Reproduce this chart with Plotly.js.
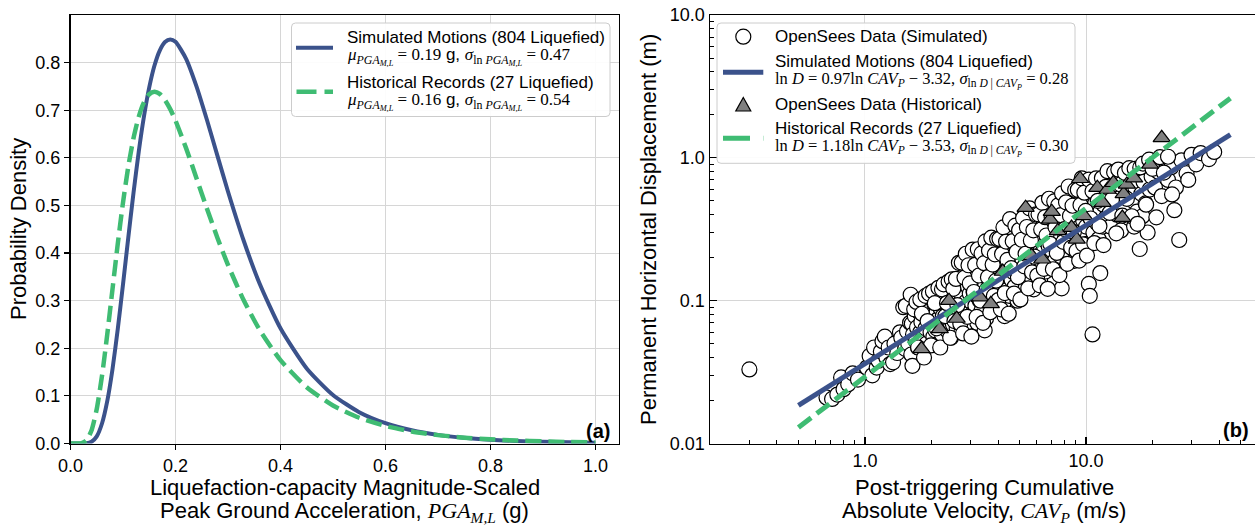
<!DOCTYPE html>
<html>
<head>
<meta charset="utf-8">
<script src="https://cdn.plot.ly/plotly-3.0.1.min.js"></script>
<style>
  html, body { margin: 0; padding: 0; overflow: hidden; background: #fff; }
  #fig { width: 1262px; height: 526px; }
</style>
</head>
<body>
<div id="fig"></div>
<script>
// ---------- (a) probability density of PGA_M,L ----------
const pgaGrid = [0, 0.01, 0.02, 0.03, 0.04, 0.05, 0.06, 0.07, 0.08, 0.09,
  0.10, 0.11, 0.12, 0.13, 0.14, 0.15, 0.16, 0.17, 0.18, 0.19,
  0.20, 0.22, 0.24, 0.26, 0.28, 0.30, 0.33, 0.36, 0.40, 0.45,
  0.50, 0.55, 0.60, 0.65, 0.70, 0.75, 0.80, 0.85, 0.90, 0.95, 1.00];

const pdfSimulated = [0, 0, 0.0000, 0.0004, 0.0035, 0.0150, 0.0420, 0.0889, 0.1561, 0.2399,
  0.3340, 0.4316, 0.5263, 0.6127, 0.6873, 0.7480, 0.7939, 0.8254, 0.8432, 0.8488,
  0.8438, 0.8085, 0.7502, 0.6794, 0.6041, 0.5294, 0.4258, 0.3368, 0.2421, 0.1577,
  0.1020, 0.0658, 0.0426, 0.0277, 0.0181, 0.0119, 0.0079, 0.0053, 0.0036, 0.0024, 0.0017];

const pdfHistorical = [0, 0.0000, 0.0004, 0.0061, 0.0274, 0.0726, 0.1419, 0.2289, 0.3242, 0.4188,
  0.5058, 0.5808, 0.6411, 0.6862, 0.7166, 0.7335, 0.7388, 0.7342, 0.7214, 0.7023,
  0.6783, 0.6209, 0.5573, 0.4932, 0.4318, 0.3752, 0.3008, 0.2393, 0.1751, 0.1181,
  0.0797, 0.0541, 0.0369, 0.0254, 0.0176, 0.0123, 0.0087, 0.0062, 0.0044, 0.0032, 0.0023];

// ---------- (b) displacement vs CAV_P ----------
const simCAV = [
  0.30, 0.67, 0.71, 0.75, 0.78, 0.80, 0.84, 0.88, 0.93, 1.02,
  1.05, 1.08, 1.10, 1.13, 1.15, 1.18, 1.20, 1.23, 1.25, 1.28,
  1.30, 1.34, 1.36, 1.40, 1.44, 1.46, 1.49, 1.52, 1.53, 1.55,
  1.57, 1.60, 1.62, 1.63, 1.65, 1.68, 1.70, 1.72, 1.74, 1.76,
  1.78, 1.80, 1.83, 1.85, 1.88, 1.90, 1.93, 1.96, 1.98, 2.02,
  2.04, 2.06, 2.08, 2.10, 2.12, 2.14, 2.16, 2.18, 2.20, 2.23,
  2.25, 2.27, 2.30, 2.32, 2.35, 2.37, 2.40, 2.42, 2.45, 2.47,
  2.50, 2.52, 2.55, 2.57, 2.60, 2.62, 2.65, 2.68, 2.70, 2.73,
  2.75, 2.78, 2.80, 2.83, 2.86, 2.89, 2.92, 2.95, 2.98, 3.02,
  3.05, 3.08, 3.10, 3.13, 3.16, 3.19, 3.22, 3.25, 3.28, 3.31,
  3.34, 3.37, 3.40, 3.43, 3.46, 3.48, 3.50, 3.53, 3.56, 3.60,
  3.63, 3.67, 3.70, 3.74, 3.78, 3.82, 3.86, 3.88, 3.90, 3.94,
  3.98, 4.02, 4.06, 4.10, 4.14, 4.18, 4.22, 4.26, 4.28, 4.30,
  4.35, 4.40, 4.45, 4.50, 4.55, 4.60, 4.65, 4.70, 4.75, 4.80,
  4.85, 4.90, 4.95, 4.98, 5.02, 5.06, 5.10, 5.15, 5.20, 5.25,
  5.30, 5.35, 5.40, 5.45, 5.50, 5.55, 5.60, 5.65, 5.70, 5.75,
  5.80, 5.85, 5.90, 5.95, 6.00, 6.05, 6.10, 6.15, 6.20, 6.25,
  6.30, 6.36, 6.42, 6.48, 6.55, 6.60, 6.66, 6.72, 6.78, 6.85,
  6.92, 7.00, 7.08, 7.15, 7.22, 7.30, 7.38, 7.45, 7.52, 7.60,
  7.68, 7.76, 7.85, 7.92, 8.05, 8.15, 8.25, 8.35, 8.45, 8.55,
  8.65, 8.75, 8.85, 8.95, 9.05, 9.15, 9.25, 9.35, 9.50, 9.60,
  9.70, 9.80, 9.90, 10.0, 10.1, 10.2, 10.3, 10.4, 10.5, 10.7,
  10.8, 11.0, 11.2, 11.4, 11.6, 11.6, 11.8, 11.9, 12.0, 12.3,
  12.6, 12.9, 13.2, 13.5, 13.8, 14.1, 14.4, 14.7, 15.0, 15.3,
  15.6, 16.0, 16.3, 16.5, 16.7, 17.0, 17.4, 17.5, 17.8, 18.0,
  18.2, 18.6, 19.0, 19.0, 19.4, 19.8, 20.5, 21.2, 22.0, 22.8,
  23.5, 24.3, 25.1, 25.5, 26.4, 27.0, 28.5, 29.0, 30.0, 31.5,
  33.0, 36.0, 38.0,
  1.61, 1.64, 1.67, 1.71, 1.74, 1.78, 1.81, 1.85, 1.88, 1.92,
  1.95, 1.99, 2.03, 2.07, 2.11, 2.15, 2.19, 2.23, 2.27, 2.31,
  2.35, 2.39, 2.43, 2.47, 2.51,
  2.54, 2.58, 2.62, 2.66, 2.70,
  2.74, 2.78, 2.82, 2.86, 2.90, 2.94, 2.98, 3.03, 3.07, 3.11,
  3.15, 3.20, 3.24, 3.28, 3.33, 3.37, 3.42, 3.46, 3.51, 3.55,
  3.60, 3.64, 3.69, 3.73, 3.78, 3.83, 3.87, 3.92, 3.96, 4.01,
  4.06, 4.12, 4.17, 4.23, 4.29, 4.35, 4.41, 4.47, 4.53, 4.59,
  4.66, 4.72, 4.79, 4.85, 4.92, 4.98, 5.05, 5.12, 5.19, 5.26,
  5.33, 5.40, 5.48, 5.55, 5.63, 5.70, 5.78, 5.86, 5.94, 6.02,
  6.10, 6.18, 6.27, 6.35, 6.44, 6.53,
  6.62, 6.71, 6.80, 6.89,
  6.99, 7.08, 7.18, 7.28, 7.38, 7.48, 7.58, 7.69, 7.79, 7.90,
  8.01, 8.12, 8.23, 8.34, 8.46, 8.57, 8.69, 8.81, 8.93, 9.06,
  9.18, 9.31, 9.44, 9.57, 9.70, 9.83, 9.97,
  10.1, 10.3, 10.5,
  10.7, 10.9, 11.1, 11.3, 11.5, 11.8, 12.0, 12.3, 12.5, 12.8,
  13.1, 13.4, 13.7, 14.0, 14.3, 14.6, 15.0, 15.3, 15.7,
  16.1, 16.6, 17.1, 17.6, 18.1, 18.7, 19.3, 20.0, 20.8, 21.6, 22.5, 23.5, 24.5];

const simDisp = [
  0.033, 0.021, 0.0205, 0.022, 0.029, 0.024, 0.026, 0.031, 0.028, 0.034,
  0.041, 0.030, 0.047, 0.034, 0.038, 0.044, 0.052, 0.056, 0.040, 0.047,
  0.036, 0.037, 0.050, 0.043, 0.060, 0.055, 0.090, 0.046, 0.092, 0.061,
  0.050, 0.070, 0.042, 0.069, 0.058, 0.078, 0.052, 0.065, 0.047, 0.083,
  0.060, 0.071, 0.055, 0.098, 0.064, 0.050, 0.075, 0.085, 0.060, 0.070,
  0.056, 0.095, 0.062, 0.081, 0.049, 0.074, 0.110, 0.066, 0.088, 0.058,
  0.078, 0.128, 0.070, 0.094, 0.062, 0.084, 0.105, 0.075, 0.055, 0.092,
  0.068, 0.140, 0.082, 0.100, 0.064, 0.088, 0.118, 0.073, 0.096, 0.060,
  0.108, 0.085, 0.150, 0.078, 0.098, 0.070, 0.125, 0.090, 0.112, 0.098,
  0.130, 0.082, 0.115, 0.150, 0.092, 0.108, 0.070, 0.125, 0.170, 0.100,
  0.138, 0.085, 0.118, 0.160, 0.105, 0.062, 0.128, 0.075, 0.145, 0.112,
  0.195, 0.098, 0.135, 0.120, 0.160, 0.090, 0.142, 0.250, 0.115, 0.178,
  0.130, 0.102, 0.150, 0.125, 0.210, 0.140, 0.095, 0.165, 0.078, 0.132,
  0.118, 0.185, 0.150, 0.108, 0.170, 0.140, 0.230, 0.158, 0.125, 0.195,
  0.165, 0.100, 0.148, 0.182, 0.170, 0.220, 0.145, 0.195, 0.280, 0.160,
  0.205, 0.125, 0.240, 0.180, 0.310, 0.200, 0.150, 0.225, 0.185, 0.265,
  0.120, 0.210, 0.175, 0.340, 0.230, 0.160, 0.205, 0.250, 0.140, 0.290,
  0.215, 0.180, 0.370, 0.235, 0.160, 0.260, 0.200, 0.310, 0.240, 0.175,
  0.280, 0.225, 0.400, 0.255, 0.190, 0.300, 0.230, 0.160, 0.350, 0.270,
  0.205, 0.122, 0.320, 0.250, 0.280, 0.360, 0.215, 0.430, 0.300, 0.240,
  0.380, 0.320, 0.190, 0.470, 0.340, 0.260, 0.410, 0.300, 0.520, 0.225,
  0.365, 0.290, 0.450, 0.330, 0.250, 0.560, 0.131, 0.108, 0.380, 0.058,
  0.300, 0.480, 0.350, 0.270, 0.156, 0.420, 0.600, 0.330, 0.470, 0.380,
  0.520, 0.330, 0.450, 0.640, 0.400, 0.520, 0.310, 0.700, 0.460, 0.580,
  0.380, 0.760, 0.500, 0.330, 0.620, 0.420, 0.820, 0.230, 0.560, 0.390,
  0.680, 0.480, 0.880, 0.300, 0.600, 0.740, 0.620, 0.800, 0.540, 0.940,
  0.700, 0.860, 0.430, 0.620, 0.266, 0.960, 0.780, 0.700, 1.050, 0.900,
  1.080, 0.980, 1.100,
  0.110, 0.035, 0.087, 0.098, 0.047, 0.102, 0.081, 0.040, 0.108, 0.072,
  0.112, 0.0486, 0.116, 0.096, 0.064, 0.123, 0.047, 0.120, 0.130, 0.078,
  0.096, 0.136, 0.055, 0.141, 0.121,
  0.072, 0.142, 0.093, 0.184, 0.069,
  0.185, 0.059, 0.145, 0.213, 0.077, 0.177, 0.132, 0.056, 0.228, 0.115,
  0.178, 0.077, 0.229, 0.150, 0.100, 0.214, 0.070, 0.183, 0.260, 0.119,
  0.146, 0.224, 0.083, 0.276, 0.179, 0.108, 0.211, 0.138, 0.271, 0.101,
  0.271, 0.087, 0.212, 0.326, 0.113, 0.259, 0.193, 0.081, 0.372, 0.169,
  0.261, 0.112, 0.335, 0.220, 0.146, 0.312, 0.102, 0.267, 0.379, 0.174,
  0.213, 0.328, 0.122, 0.443, 0.264, 0.158, 0.311, 0.203, 0.402, 0.150,
  0.402, 0.128, 0.315, 0.484, 0.167, 0.384,
  0.286, 0.121, 0.517, 0.250,
  0.386, 0.166, 0.495, 0.326, 0.216, 0.464, 0.151, 0.397, 0.563, 0.258,
  0.317, 0.488, 0.181, 0.630, 0.392, 0.235, 0.462, 0.302, 0.596, 0.223,
  0.597, 0.191, 0.468, 0.719, 0.248, 0.570, 0.425,
  0.207, 0.704, 0.376,
  0.584, 0.253, 0.718, 0.500, 0.333, 0.722, 0.245, 0.627, 0.806, 0.412,
  0.511, 0.793, 0.296, 0.828, 0.652, 0.394, 0.784, 0.516, 0.846,
  0.390, 0.837, 0.345, 0.857, 0.911, 0.470, 0.970, 0.838, 0.383, 1.011, 0.789, 1.018, 0.554];

const histCAV = [1.80, 2.18, 2.40, 2.60, 3.31, 3.71, 4.20, 5.33, 5.68, 6.34,
  6.87, 7.00, 7.45, 8.60, 9.08, 9.40, 9.80, 11.25, 11.90, 12.50,
  13.30, 14.60, 14.80, 15.30, 16.50, 19.50, 22.00];
const histDisp = [0.046, 0.0635, 0.100, 0.075, 0.106, 0.095, 0.160, 0.448, 0.206, 0.195,
  0.371, 0.420, 0.308, 0.325, 0.269, 0.714, 0.392, 0.618, 0.486, 0.600,
  0.669, 0.382, 0.560, 0.651, 0.720, 0.900, 1.380];

// Regression ln D = a ln CAV_P + b, as stated in the legend
const fitCAV = [0.5, 45];
const simFit = { a: 0.97, b: -3.32 };
const histFit = { a: 1.18, b: -3.53 };
const fitLine = f => fitCAV.map(c => Math.exp(f.b + f.a * Math.log(c)));

// ---------- styling ----------
const W = 1262, H = 526;
const px = v => v / W;          // pixel -> paper x
const py = v => 1 - v / H;      // pixel -> paper y
const SANS = 'Liberation Sans, Arial, sans-serif';
const SERIF = 'Liberation Serif, Times New Roman, serif';
const BLUE = '#3B528B';
const GREEN = '#3FBC73';
const GRID = '#d6d6d6';
const DASH = '16px,7px';

const traces = [
  { x: pgaGrid, y: pdfSimulated, xaxis: 'x', yaxis: 'y', mode: 'lines',
    line: { color: BLUE, width: 4, shape: 'spline', smoothing: 0.6 } },
  { x: pgaGrid, y: pdfHistorical, xaxis: 'x', yaxis: 'y', mode: 'lines',
    line: { color: GREEN, width: 4.5, dash: DASH, shape: 'spline', smoothing: 0.6 } },
  { x: simCAV, y: simDisp, xaxis: 'x2', yaxis: 'y2', mode: 'markers',
    marker: { symbol: 'circle', size: 15, color: '#ffffff', line: { color: '#000', width: 1.2 } } },
  { x: histCAV, y: histDisp, xaxis: 'x2', yaxis: 'y2', mode: 'markers',
    marker: { symbol: 'triangle-up', size: 15, color: '#808080', line: { color: '#000', width: 1.2 } } },
  { x: fitCAV, y: fitLine(simFit), xaxis: 'x2', yaxis: 'y2', mode: 'lines',
    line: { color: BLUE, width: 5 } },
  { x: fitCAV, y: fitLine(histFit), xaxis: 'x2', yaxis: 'y2', mode: 'lines',
    line: { color: GREEN, width: 5, dash: DASH } }
];

const tickFont = { family: SANS, size: 18, color: '#000' };
const frame = { showline: true, mirror: true, linecolor: '#000', linewidth: 1.5,
  zeroline: false, showgrid: true, gridcolor: GRID, gridwidth: 1,
  tickcolor: '#000', tickwidth: 1.2, tickfont: tickFont };

const minorLog = (decades) => {
  const v = [];
  decades.forEach(d => { for (let k = 2; k <= 9; k++) v.push(+(k * d).toPrecision(3)); });
  return v;
};

const layout = {
  width: W, height: H,
  margin: { l: 0, r: 0, t: 0, b: 0, pad: 0 },
  paper_bgcolor: '#fff', plot_bgcolor: '#fff',
  showlegend: false,
  xaxis: Object.assign({}, frame, {
    domain: [px(70.5), px(618.5)], range: [0, 1.044], anchor: 'y',
    tickmode: 'array', tickvals: [0, 0.2, 0.4, 0.6, 0.8, 1.0],
    ticktext: ['0.0', '0.2', '0.4', '0.6', '0.8', '1.0'],
    ticks: 'outside', ticklen: 5
  }),
  yaxis: Object.assign({}, frame, {
    domain: [py(443.5), py(15)], range: [0, 0.9], anchor: 'x',
    tickmode: 'array', tickvals: [0, 0.1, 0.2, 0.3, 0.4, 0.5, 0.6, 0.7, 0.8],
    ticktext: ['0.0', '0.1', '0.2', '0.3', '0.4', '0.5', '0.6', '0.7', '0.8'],
    ticks: 'outside', ticklen: 5
  }),
  xaxis2: Object.assign({}, frame, {
    type: 'log', domain: [px(710), px(1258)], range: [-0.701, 1.778], anchor: 'y2',
    tickmode: 'array', tickvals: [1, 10], ticktext: ['1.0', '10.0'],
    ticks: 'inside', ticklen: 7,
    minor: { tickmode: 'array', tickvals: minorLog([0.1, 1, 10]), ticks: 'inside',
      ticklen: 4, tickcolor: '#000', tickwidth: 1, showgrid: false }
  }),
  yaxis2: Object.assign({}, frame, {
    type: 'log', domain: [py(443.5), py(15)], range: [-2, 1], anchor: 'x2',
    tickmode: 'array', tickvals: [0.01, 0.1, 1, 10], ticktext: ['0.01', '0.1', '1.0', '10.0'],
    ticks: 'inside', ticklen: 7,
    minor: { tickmode: 'array', tickvals: minorLog([0.01, 0.1, 1]), ticks: 'inside',
      ticklen: 4, tickcolor: '#000', tickwidth: 1, showgrid: false }
  }),
  shapes: [],
  annotations: []
};

// rounded legend frame in pixel units
function legendBox(x0, y0, x1, y1, r) {
  const rx = r / W, ry = r / H;
  const X0 = px(x0), X1 = px(x1), Y0 = py(y0), Y1 = py(y1);
  const path = `M ${X0 + rx},${Y0} L ${X1 - rx},${Y0} Q ${X1},${Y0} ${X1},${Y0 - ry} ` +
    `L ${X1},${Y1 + ry} Q ${X1},${Y1} ${X1 - rx},${Y1} L ${X0 + rx},${Y1} ` +
    `Q ${X0},${Y1} ${X0},${Y1 + ry} L ${X0},${Y0 - ry} Q ${X0},${Y0} ${X0 + rx},${Y0} Z`;
  return { type: 'path', xref: 'paper', yref: 'paper', path, layer: 'above',
    fillcolor: 'rgba(255,255,255,0.92)', line: { color: '#cccccc', width: 1 } };
}
function seg(x0, x1, y, color, width, dash) {
  return { type: 'line', xref: 'paper', yref: 'paper', x0: px(x0), x1: px(x1), y0: py(y), y1: py(y),
    line: { color, width, dash: dash || 'solid' }, layer: 'above' };
}
function txt(x, y, text, opts) {
  opts = opts || {};
  return { xref: 'paper', yref: 'paper', x: px(x), y: py(y), text, showarrow: false,
    xanchor: opts.xanchor || 'left', yanchor: 'middle', textangle: opts.angle || 0,
    font: { family: opts.family || SANS, size: opts.size || 17, color: '#000' } };
}

const sansSpan = s => `<span style="font-family:Liberation Sans">${s}</span>`;
const pgaSub = '<i>PGA</i><sub><i>M,L</i></sub>';
const statText = (mu, sig) =>
  `<i>μ</i><sub>${pgaSub}</sub> = ${mu}${sansSpan(' g, ')}<i>σ</i><sub>ln ${pgaSub}</sub> = ${sig}`;
const fitText = (a, b, s) =>
  `ln <i>D</i> = ${a}ln <i>CAV</i><sub><i>P</i></sub> − ${b}, <i>σ</i><sub>ln <i>D</i> | <i>CAV</i><sub><i>P</i></sub></sub> = ${s}`;

// legend of (a)
layout.shapes.push(legendBox(291.5, 23, 610, 116.5, 4));
layout.shapes.push(seg(296, 333, 47.7, BLUE, 4));
layout.shapes.push(seg(296.5, 333, 91.7, GREEN, 4.5, '20px,8px'));
layout.annotations.push(txt(345, 37.5, 'Simulated Motions (804 Liquefied)'));
layout.annotations.push(txt(345, 57, statText('0.19', '0.47'), { family: SERIF }));
layout.annotations.push(txt(345, 82, 'Historical Records (27 Liquefied)'));
layout.annotations.push(txt(345, 101, statText('0.16', '0.54'), { family: SERIF }));

// legend of (b)
layout.shapes.push(legendBox(717, 23, 1075, 163.3, 4));
layout.shapes.push({ type: 'circle', xref: 'paper', yref: 'paper',
  x0: px(735.8), x1: px(750.8), y0: py(44.2), y1: py(29.2),
  fillcolor: '#fff', line: { color: '#000', width: 1.2 }, layer: 'above' });
layout.shapes.push(seg(723, 763.3, 72.3, BLUE, 5));
layout.shapes.push({ type: 'path', xref: 'paper', yref: 'paper',
  path: `M ${px(743.3)},${py(97.5)} L ${px(750.8)},${py(111)} L ${px(735.8)},${py(111)} Z`,
  fillcolor: '#808080', line: { color: '#000', width: 1.2 }, layer: 'above' });
layout.shapes.push(seg(723, 763.3, 138.3, GREEN, 5, '27px,13px'));
layout.annotations.push(txt(773.3, 36.7, 'OpenSees Data (Simulated)'));
layout.annotations.push(txt(773.3, 61.7, 'Simulated Motions (804 Liquefied)'));
layout.annotations.push(txt(773.3, 80.5, fitText('0.97', '3.32', '0.28'), { family: SERIF, size: 16.5 }));
layout.annotations.push(txt(773.3, 105, 'OpenSees Data (Historical)'));
layout.annotations.push(txt(773.3, 128.3, 'Historical Records (27 Liquefied)'));
layout.annotations.push(txt(773.3, 147, fitText('1.18', '3.53', '0.30'), { family: SERIF, size: 16.5 }));

// axis titles
const serifSpan = s => `<span style="font-family:Liberation Serif">${s}</span>`;
layout.annotations.push(txt(18, 229, 'Probability Density', { xanchor: 'center', angle: -90, size: 22 }));
layout.annotations.push(txt(648, 229, 'Permanent Horizontal Displacement (m)', { xanchor: 'center', angle: -90, size: 22 }));
layout.annotations.push(txt(344.5, 487, 'Liquefaction-capacity Magnitude-Scaled', { xanchor: 'center', size: 22 }));
layout.annotations.push(txt(344.5, 511.5,
  'Peak Ground Acceleration, ' + serifSpan('<i>PGA</i><sub><i>M,L</i></sub>') + ' (g)', { xanchor: 'center', size: 22 }));
layout.annotations.push(txt(984, 487, 'Post-triggering Cumulative', { xanchor: 'center', size: 22 }));
layout.annotations.push(txt(984, 511.5,
  'Absolute Velocity, ' + serifSpan('<i>CAV</i><sub><i>P</i></sub>') + ' (m/s)', { xanchor: 'center', size: 22 }));

// panel tags
layout.annotations.push(txt(598, 431, '<b>(a)</b>', { xanchor: 'center', size: 20 }));
layout.annotations.push(txt(1236, 430, '<b>(b)</b>', { xanchor: 'center', size: 20 }));

Plotly.newPlot('fig', traces, layout, { staticPlot: true });
</script>
</body>
</html>
